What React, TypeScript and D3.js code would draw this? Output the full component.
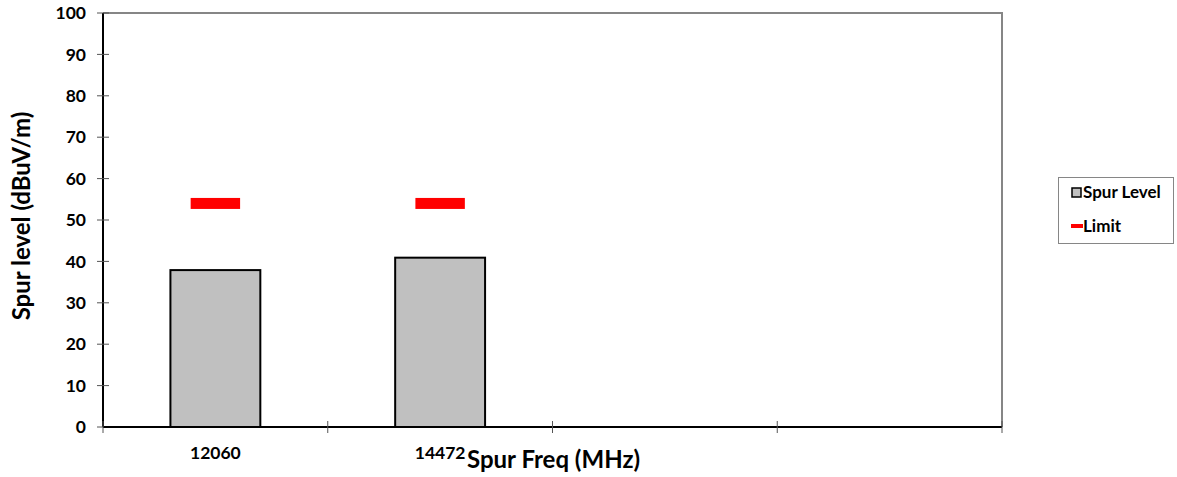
import * as d3 from 'd3'

const categories = ['12060', '14472', '', '']
const spurLevel: (number | null)[] = [37.9, 40.9, null, null]
const limit: (number | null)[] = [54, 54, null, null]
const yTicks = [0, 10, 20, 30, 40, 50, 60, 70, 80, 90, 100]

const W = 1177
const H = 477
const plot = { left: 103, top: 13, right: 1002, bottom: 427 }
const FONT = 'Lato, "Open Sans", sans-serif'

export default function App() {
  const x = d3
    .scaleBand<number>()
    .domain(d3.range(categories.length))
    .range([plot.left, plot.right])
    .padding(0)
  const y = d3.scaleLinear().domain([0, 100]).range([plot.bottom, plot.top])
  const bw = x.bandwidth()
  const barW = bw * 0.4
  const limW = bw * 0.22

  return (
    <div style={{ position: 'fixed', left: 0, top: 0 }}>
      <svg width={W} height={H} style={{ display: 'block', background: '#fff' }} fontFamily={FONT}>
        {/* top and right frame */}
        <path
          d={`M${plot.left},${plot.top}H${plot.right}V${plot.bottom}`}
          fill="none"
          stroke="#868686"
          strokeWidth={2}
        />

        {/* bars */}
        {spurLevel.map((v, i) =>
          v == null ? null : (
            <rect
              key={'b' + i}
              x={(x(i) as number) + (bw - barW) / 2}
              y={y(v)}
              width={barW}
              height={y(0) - y(v)}
              fill="#c0c0c0"
              stroke="#000"
              strokeWidth={2}
            />
          )
        )}

        {/* limit markers */}
        {limit.map((v, i) =>
          v == null ? null : (
            <rect
              key={'l' + i}
              x={(x(i) as number) + (bw - limW) / 2}
              y={y(v) - 5.5}
              width={limW}
              height={11}
              fill="#ff0000"
            />
          )
        )}

        {/* y axis */}
        <line x1={plot.left} x2={plot.left} y1={plot.top} y2={plot.bottom} stroke="#000" strokeWidth={2} />
        {yTicks.map((t) => (
          <g key={'y' + t} transform={`translate(0,${y(t)})`}>
            <line x1={plot.left - 6} x2={plot.left + 6} stroke="#555" strokeWidth={1} />
            <text x={86} dy="0.35em" textAnchor="end" fontSize={17.5} fontWeight={700}>
              {t}
            </text>
          </g>
        ))}

        {/* x axis */}
        <line x1={plot.left} x2={plot.right} y1={plot.bottom} y2={plot.bottom} stroke="#000" strokeWidth={2} />
        {d3.range(categories.length + 1).map((i) => {
          const xx = i < categories.length ? (x(i) as number) : plot.right
          return (
            <line key={'xt' + i} x1={xx} x2={xx} y1={plot.bottom - 6} y2={plot.bottom + 6} stroke="#555" strokeWidth={1} />
          )
        })}
        {categories.map((c, i) => (
          <text
            key={'xl' + i}
            x={(x(i) as number) + bw / 2}
            y={459}
            textAnchor="middle"
            fontSize={17.5}
            fontWeight={700}
          >
            {c}
          </text>
        ))}

        {/* axis titles */}
        <text x={467} y={468} fontSize={24} fontWeight={700}>
          Spur Freq (MHz)
        </text>
        <text
          transform={`translate(30,${(plot.top + plot.bottom) / 2 - 4}) rotate(-90)`}
          textAnchor="middle"
          fontSize={24}
          fontWeight={700}
        >
          Spur level (dBuV/m)
        </text>

        {/* legend */}
        <g>
          <rect x={1058.5} y={177.5} width={115} height={66} fill="#fff" stroke="#868686" strokeWidth={1} />
          <rect x={1072} y={188} width={9} height={9} fill="#c0c0c0" stroke="#000" strokeWidth={1.5} />
          <text x={1083} y={198} fontSize={17} fontWeight={700}>
            Spur Level
          </text>
          <rect x={1071} y={224} width={12} height={4} fill="#ff0000" />
          <text x={1083} y={232} fontSize={17} fontWeight={700}>
            Limit
          </text>
        </g>
      </svg>
    </div>
  )
}
